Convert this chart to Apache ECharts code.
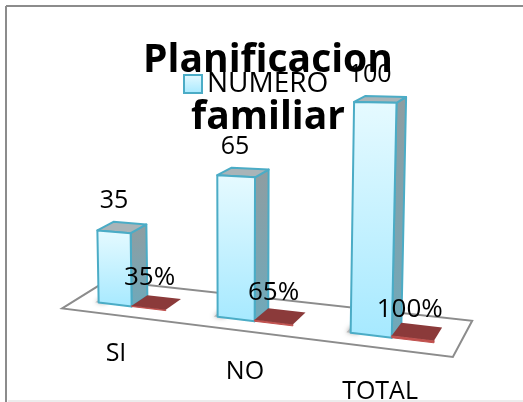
<!DOCTYPE html>
<html><head><meta charset="utf-8">
<style>html,body{margin:0;padding:0;background:#fff}#c{width:523px;height:402px}</style>
<script src="https://cdn.jsdelivr.net/npm/echarts@6/dist/echarts.min.js"></script>
</head><body><div id="c"></div>
<script>
const categories = ['SI', 'NO', 'TOTAL'];
const numero = [35, 65, 100];
const porcentaje = [0.35, 0.65, 1];
const porcentajeLabels = ['35%', '65%', '100%'];
const titleText = 'Planificacion\nfamiliar';
const groundU = [-0.35, 2.6];
const groundD = [-0.85, 1.9];

const FONT = '"Open Sans"';
const BAR_U = 35 / 121;
const CAT_LABEL_DX = [1, 9, 9];
const CAT_LABEL_DY = [49, 53, 57];
const PCT_LABEL_DX = [1, 0, -3];

// pseudo-perspective applied to the pixel coordinates the axes return
function project(api, u, v, d) {
  const origin = api.coord([0, 0]);
  const band = api.size([1, 0])[0];
  const px = origin[0] + u * band;
  const h = origin[1] - api.coord([0, v])[1];
  const X0 = px + 0.00048 * (px - 115) * (px - 236);
  const baseY = origin[1] + 0.12 * (X0 - 219);
  const s = 1 + 0.00045 * (X0 - 219);
  const H = h * s;
  const dx = 16.5 - 0.000045 * X0 * X0;
  const dy = (-10 - (X0 - 62) * 0.008) * (1 - H * 0.0023);
  const lean = (X0 - 236) * 0.00013 * H;
  return [X0 + lean + d * dx, baseY - H + d * dy];
}
function poly(points, style, z2) {
  return { type: 'polygon', z2: z2 || 0, shape: { points }, style };
}
const grad = (a, b) => ({ type: 'linear', x: 0, y: 0, x2: 0, y2: 1, colorStops: [{ offset: 0, color: a }, { offset: 1, color: b }] });

function renderGround(params, api) {
  const P = (u, d) => project(api, u, 0, d);
  return poly([P(groundU[0], groundD[0]), P(groundU[0], groundD[1]), P(groundU[1], groundD[1]), P(groundU[1], groundD[0])],
    { fill: '#fff', stroke: '#8c8c8c', lineWidth: 2 });
}
function renderBar(params, api) {
  const i = api.value(0), v = api.value(1);
  const l = i - BAR_U / 2, r = i + BAR_U / 2;
  const P = (u, val, d) => project(api, u, val, d);
  const edge = { stroke: '#4bacc6', lineWidth: 2, lineJoin: 'round' };
  const backTop = P(i, v, 1);
  const c = P(i, 0, 0);
  return { type: 'group', children: [
    poly([P(l - 0.03, 0, 0), P(l - 0.03, 0, 0.5), P(l + 0.05, 0, 0.5), P(l + 0.05, 0, 0)],
      { fill: '#b5b5b5', shadowBlur: 5, shadowColor: '#999' }),
    poly([P(r, 0, 0), P(r, 0, 1), P(r, v, 1), P(r, v, 0)],
      Object.assign({ fill: grad('#8f9da1', '#6fa9ba') }, edge)),
    poly([P(l, v, 0), P(l, v, 1), P(r, v, 1), P(r, v, 0)],
      Object.assign({ fill: '#a9b4b8' }, edge)),
    poly([P(l, 0, 0), P(l, v, 0), P(r, v, 0), P(r, 0, 0)],
      Object.assign({ fill: grad('#e6faff', '#a6e9ff') }, edge)),
    { type: 'text', z2: 5, style: { text: String(v), x: P(i, 0, 0)[0] - 1, y: backTop[1] - 22, align: 'center', verticalAlign: 'middle', font: '25px ' + FONT, fill: '#000' } },
    { type: 'text', z2: 5, style: { text: categories[i], x: c[0] + CAT_LABEL_DX[i], y: c[1] + CAT_LABEL_DY[i], align: 'center', verticalAlign: 'middle', font: '25px ' + FONT, fill: '#000' } }
  ] };
}
function renderRed(params, api) {
  const i = api.value(0), v = api.value(1);
  const l = i + BAR_U / 2, r = i + BAR_U * 1.5;
  const P = (u, val, d) => project(api, u, val, d);
  const c = P(i + BAR_U, 0, 0);
  return { type: 'group', children: [
    poly([P(l, 0, 0), P(r, 0, 0), P(r, v, 0), P(l, v, 0)], { fill: '#c0504d', stroke: '#c0504d', lineWidth: 1 }),
    poly([P(l, v, 0), P(l, v, 1), P(r, v, 1), P(r, v, 0)], { fill: '#8b3a3a' }),
    { type: 'text', z2: 5, style: { text: porcentajeLabels[i], x: c[0] + PCT_LABEL_DX[i], y: c[1] - 31, align: 'center', verticalAlign: 'middle', font: '26px ' + FONT, fill: '#000' } }
  ] };
}

const chart = echarts.init(document.getElementById('c'), null, { renderer: 'canvas' });
chart.setOption({
  animation: false,
  backgroundColor: '#fff',
  title: { text: titleText, left: 263, top: 27, textAlign: 'center',
    textStyle: { fontFamily: FONT, fontWeight: 'bold', fontSize: 39, lineHeight: 57, color: '#000' } },
  legend: { left: 178, top: 65, data: ['NUMERO'], icon: 'rect', itemWidth: 18, itemHeight: 18, itemGap: 10,
    textStyle: { fontFamily: FONT, fontSize: 28, color: '#000' } },
  grid: { left: 54.5, width: 363, top: 99, height: 218 },
  xAxis: { type: 'category', data: categories, show: false },
  yAxis: { type: 'value', min: 0, max: 100, show: false },
  graphic: [
    { type: 'line', silent: true, shape: { x1: 6, y1: 6, x2: 523, y2: 6 }, style: { stroke: '#8c8c8c', lineWidth: 2 } },
    { type: 'line', silent: true, shape: { x1: 6, y1: 6, x2: 6, y2: 402 }, style: { stroke: '#8c8c8c', lineWidth: 2 } },
    { type: 'line', silent: true, shape: { x1: 8, y1: 401, x2: 523, y2: 401 }, style: { stroke: '#ececec', lineWidth: 2 } }
  ],
  series: [
    { type: 'custom', name: 'suelo', silent: true, z: 1, data: [[0, 0]], renderItem: renderGround, legendHoverLink: false },
    { type: 'custom', name: 'NUMERO', z: 2, renderItem: renderBar,
      itemStyle: { color: grad('#e6faff', '#a6e9ff'), borderColor: '#4bacc6', borderWidth: 2 },
      data: numero.map((v, i) => [i, v]) },
    { type: 'custom', name: 'PORCENTAJE', z: 3, renderItem: renderRed,
      data: porcentaje.map((v, i) => [i, v]) }
  ]
});
</script></body></html>
